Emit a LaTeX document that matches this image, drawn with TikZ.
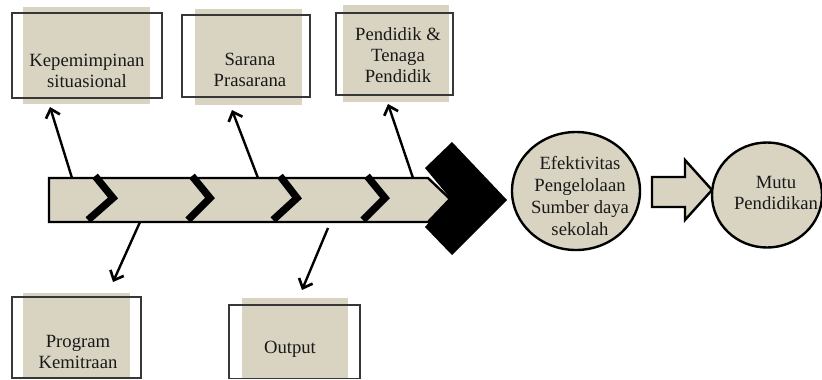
\documentclass[tikz,border=0pt]{standalone}
\usepackage{fontspec}
\setmainfont{Liberation Serif}
\usetikzlibrary{arrows.meta,shapes.geometric,fit}
\definecolor{beige}{RGB}{217,212,194}
\definecolor{boxline}{RGB}{55,55,55}
\tikzset{
  shadebox/.style={fill=beige},
  outline/.style={draw=boxline,line width=0.8pt,inner sep=0pt},
  lbl/.style={font=\fontsize{14pt}{15.8pt}\selectfont,align=center,inner sep=0pt,text=black!90},
  conn/.style={line width=1.8pt,-{Straight Barb[length=6pt,width=11pt,line width=2pt]}},
  chev/.style={line width=5.5pt,miter limit=4},
  bigline/.style={draw=black,line width=1.8pt,fill=beige},
}
\begin{document}
\begin{tikzpicture}[x=0.75pt,y=-0.75pt]
\useasboundingbox (0,0) rectangle (822,379);

% ---- top boxes ----
\fill[shadebox] (23,7) rectangle (150,104);
\coordinate (k-nw) at (12,13); \coordinate (k-se) at (162,98);
\node[outline,fit=(k-nw)(k-se)] (kbox) {};
\node[lbl] (ktext) at (87,71) {Kepemimpinan\\situasional};

\fill[shadebox] (195,9) rectangle (302,105);
\coordinate (s-nw) at (182,15); \coordinate (s-se) at (310,97);
\node[outline,fit=(s-nw)(s-se)] (sbox) {};
\node[lbl] (stext) at (250,70) {Sarana\\Prasarana};

\fill[shadebox] (343,5) rectangle (449,102);
\coordinate (p-nw) at (336,13); \coordinate (p-se) at (453,95);
\node[outline,fit=(p-nw)(p-se)] (pbox) {};
\node[lbl] (ptext) at (398,55) {Pendidik \&\\Tenaga\\Pendidik};

% ---- bottom boxes ----
\fill[shadebox] (23,293) rectangle (130,379);
\coordinate (g-nw) at (12,297); \coordinate (g-se) at (141,378);
\node[outline,fit=(g-nw)(g-se)] (gbox) {};
\node[lbl] (gtext) at (78,352) {Program\\Kemitraan};

\fill[shadebox] (242,298) rectangle (348,379);
\coordinate (o-nw) at (229,305); \coordinate (o-se) at (360,378.5);
\node[outline,fit=(o-nw)(o-se)] (obox) {};
\node[lbl] (otext) at (290,349) {Output};

% ---- main shaft ----
\path[bigline] (49,178) -- (428,178) -- (450,199) -- (428,222) -- (49,222) -- cycle;
\fill[black] (425,168) -- (452,142) -- (507,200) -- (452,255) -- (425,227) -- (450,198) -- cycle;

% chevrons on the shaft
\draw[chev] (95,176) -- (113,198) -- (88,220);
\draw[chev] (192,176) -- (210,198) -- (188,220);
\draw[chev] (280,176) -- (297,198) -- (273,220);
\draw[chev] (367,176) -- (385,198) -- (363,220);

% ---- connectors ----
\coordinate (k-s) at (72,178);  \coordinate (k-t) at (50,107);
\coordinate (s-s) at (258,178); \coordinate (s-t) at (232,110);
\coordinate (p-s) at (413,178); \coordinate (p-t) at (388,104);
\coordinate (g-s) at (140,222); \coordinate (g-t) at (113,282);
\coordinate (o-s) at (328,228); \coordinate (o-t) at (302,290);
\draw[conn] (k-s) -- (k-t);
\draw[conn] (s-s) -- (s-t);
\draw[conn] (p-s) -- (p-t);
\draw[conn] (g-s) -- (g-t);
\draw[conn] (o-s) -- (o-t);

% ---- result circles ----
\node[ellipse,bigline,minimum width=96pt,minimum height=88.5pt,inner sep=0pt] (eff) at (576,191) {};
\begin{scope}
  \clip (576,191) ellipse [x radius=47pt, y radius=43.3pt];
  \node[lbl,font=\fontsize{14pt}{16.5pt}\selectfont] (efftext) at (580,196) {Efektivitas\\Pengelolaan\\Sumber daya\\sekolah};
\end{scope}

\path[bigline] (652,177) -- (685,177) -- (685,160) -- (712,190) -- (685,220) -- (685,207) -- (652,207) -- cycle;

\node[ellipse,bigline,minimum width=82.5pt,minimum height=78.75pt,inner sep=0pt] (mutu) at (767,195) {};
\node[lbl] (mututext) at (776,193) {Mutu\\Pendidikan};
\end{tikzpicture}
\end{document}
